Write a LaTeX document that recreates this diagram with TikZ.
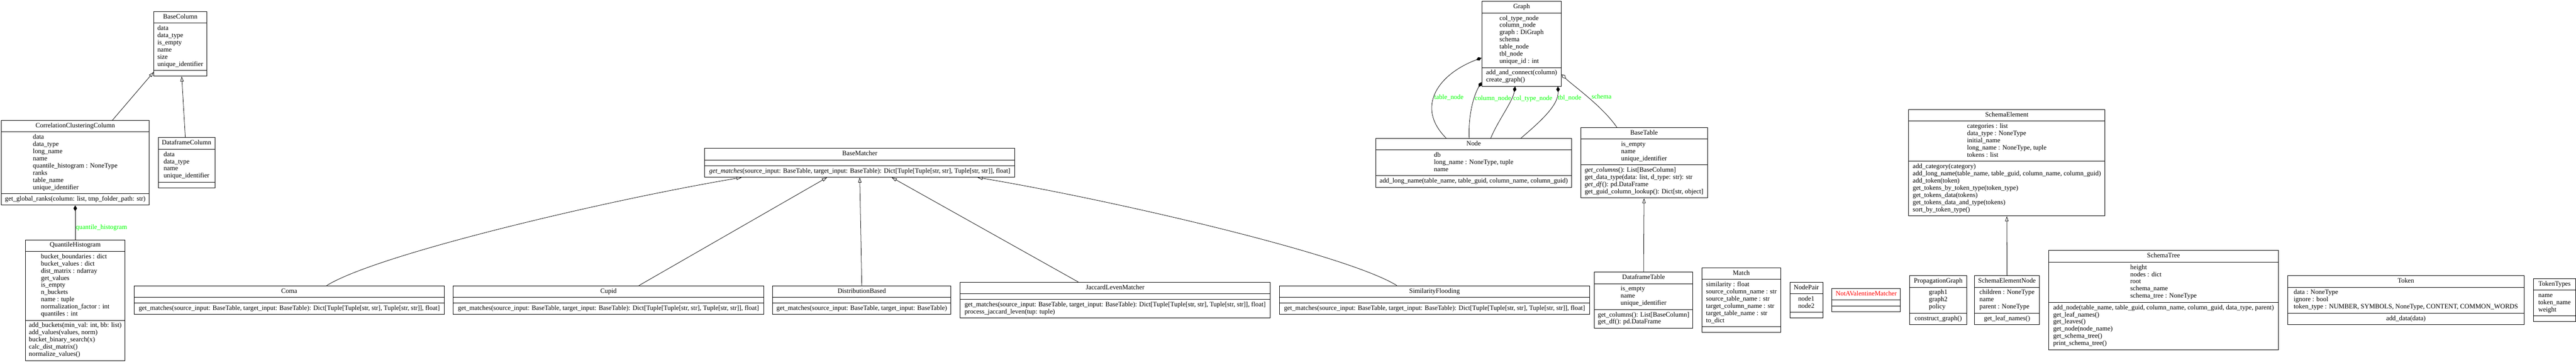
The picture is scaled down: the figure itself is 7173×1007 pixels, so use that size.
\documentclass[tikz,border=0pt]{standalone}
\usepackage{fontspec}
\setmainfont{Liberation Serif}
\usetikzlibrary{arrows.meta,positioning,shapes.multipart}
\definecolor{rolegreen}{RGB}{0,255,0}
\definecolor{extred}{RGB}{255,0,0}
\newcommand\rows[1]{\begin{tabular}{@{}l@{}}#1\end{tabular}}

\begin{document}
\begin{tikzpicture}[x=1pt,y=-1pt,node distance=24pt,
	umlclass/.style={rectangle split,rectangle split parts=3,draw,line width=1.4pt,
		inner xsep=10pt,inner ysep=5.25pt,font=\fontsize{18.5}{20}\selectfont},
	inherit/.style={-{Triangle[open,length=14pt,width=9pt]},line width=1.1pt},
	compose/.style={{Diamond[length=16pt,width=10pt]}-,line width=1.1pt},
	aggregate/.style={{Diamond[open,length=16pt,width=10pt]}-,line width=1.1pt},
	role/.style={text=rolegreen,font=\fontsize{18.5}{20}\selectfont,inner sep=1pt,anchor=west}]

\useasboundingbox (0,0) rectangle (7173,1007);

\node[umlclass,minimum width=146pt]   (BaseColumn) at (502,122)
	{\rows{BaseColumn}\nodepart{second}\rows{data\\data\_type\\is\_empty\\name\\size\\unique\_identifier}\nodepart{third}\rows{}};
\node[umlclass,minimum width=222pt]   (Graph) at (4237,122)
	{\rows{Graph}\nodepart{second}\rows{col\_type\_node\\column\_node\\graph : DiGraph\\schema\\table\_node\\tbl\_node\\unique\_id : int}\nodepart{third}\rows{add\_and\_connect(column)\\create\_graph()}};

\node[umlclass,minimum width=409pt]   (CCC) at (209.5,453)
	{\rows{CorrelationClusteringColumn}\nodepart{second}\rows{data\\data\_type\\long\_name\\name\\quantile\_histogram : NoneType\\ranks\\table\_name\\unique\_identifier}\nodepart{third}\rows{get\_global\_ranks(column: list, tmp\_folder\_path: str)}};
	\node[umlclass,minimum width=157pt]   (DataframeColumn) [right=of CCC]
	{\rows{DataframeColumn}\nodepart{second}\rows{data\\data\_type\\name\\unique\_identifier}\nodepart{third}\rows{}};
\node[umlclass,minimum width=864pt]   (BaseMatcher) at (2394,453)
	{\rows{BaseMatcher}\nodepart{second}\rows{}\nodepart{third}\rows{\textit{get\_matches}(source\_input: BaseTable, target\_input: BaseTable): Dict[Tuple[Tuple[str, str], Tuple[str, str]], float]}};
\node[umlclass,minimum width=545pt]   (Node) at (4103.5,453)
	{\rows{Node}\nodepart{second}\rows{db\\long\_name : NoneType, tuple\\name}\nodepart{third}\rows{add\_long\_name(table\_name, table\_guid, column\_name, column\_guid)}};
	\node[umlclass,minimum width=353pt]   (BaseTable) [right=of Node]
	{\rows{BaseTable}\nodepart{second}\rows{is\_empty\\name\\unique\_identifier}\nodepart{third}\rows{\textit{get\_columns}(): List[BaseColumn]\\get\_data\_type(data: list, d\_type: str): str\\\textit{get\_df}(): pd.DataFrame\\get\_guid\_column\_lookup(): Dict[str, object]}};
\node[umlclass,minimum width=546pt]   (SchemaElement) at (5588,453)
	{\rows{SchemaElement}\nodepart{second}\rows{categories : list\\data\_type : NoneType\\initial\_name\\long\_name : NoneType, tuple\\tokens : list}\nodepart{third}\rows{add\_category(category)\\add\_long\_name(table\_name, table\_guid, column\_name, column\_guid)\\add\_token(token)\\get\_tokens\_by\_token\_type(token\_type)\\get\_tokens\_data(tokens)\\get\_tokens\_data\_and\_type(tokens)\\sort\_by\_token\_type()}};

\node[umlclass,minimum width=275pt]   (QH) at (209.5,835)
	{\rows{QuantileHistogram}\nodepart{second}\rows{bucket\_boundaries : dict\\bucket\_values : dict\\dist\_matrix : ndarray\\get\_values\\is\_empty\\n\_buckets\\name : tuple\\normalization\_factor : int\\quantiles : int}\nodepart{third}\rows{add\_buckets(min\_val: int, bb: list)\\add\_values(values, norm)\\bucket\_binary\_search(x)\\calc\_dist\_matrix()\\normalize\_values()}};
	\node[umlclass,minimum width=863pt]   (Coma) [right=of QH]
	{\rows{Coma}\nodepart{second}\rows{}\nodepart{third}\rows{get\_matches(source\_input: BaseTable, target\_input: BaseTable): Dict[Tuple[Tuple[str, str], Tuple[str, str]], float]}};
	\node[umlclass,minimum width=864pt]   (Cupid) [right=of Coma]
	{\rows{Cupid}\nodepart{second}\rows{}\nodepart{third}\rows{get\_matches(source\_input: BaseTable, target\_input: BaseTable): Dict[Tuple[Tuple[str, str], Tuple[str, str]], float]}};
	\node[umlclass,minimum width=496pt]   (DistributionBased) [right=of Cupid]
	{\rows{DistributionBased}\nodepart{second}\rows{}\nodepart{third}\rows{get\_matches(source\_input: BaseTable, target\_input: BaseTable)}};
	\node[umlclass,minimum width=864pt]   (JaccardLevenMatcher) [right=of DistributionBased]
	{\rows{JaccardLevenMatcher}\nodepart{second}\rows{}\nodepart{third}\rows{get\_matches(source\_input: BaseTable, target\_input: BaseTable): Dict[Tuple[Tuple[str, str], Tuple[str, str]], float]\\process\_jaccard\_leven(tup: tuple)}};
	\node[umlclass,minimum width=864pt]   (SimilarityFlooding) [right=of JaccardLevenMatcher]
	{\rows{SimilarityFlooding}\nodepart{second}\rows{}\nodepart{third}\rows{get\_matches(source\_input: BaseTable, target\_input: BaseTable): Dict[Tuple[Tuple[str, str], Tuple[str, str]], float]}};
\node[umlclass,minimum width=273pt]   (DataframeTable) at (4576.5,835)
	{\rows{DataframeTable}\nodepart{second}\rows{is\_empty\\name\\unique\_identifier}\nodepart{third}\rows{get\_columns(): List[BaseColumn]\\get\_df(): pd.DataFrame}};
	\node[umlclass,minimum width=219pt]   (Match) [right=of DataframeTable]
	{\rows{Match}\nodepart{second}\rows{similarity : float\\source\_column\_name : str\\source\_table\_name : str\\target\_column\_name : str\\target\_table\_name : str\\to\_dict}\nodepart{third}\rows{}};
	\node[umlclass,minimum width=92pt]   (NodePair) [right=of Match]
	{\rows{NodePair}\nodepart{second}\rows{node1\\node2}\nodepart{third}\rows{}};
	\node[umlclass,minimum width=191pt]   (NotAValentineMatcher) [right=of NodePair]
	{\rows{\textcolor{extred}{NotAValentineMatcher}}\nodepart{second}\rows{}\nodepart{third}\rows{}};
	\node[umlclass,minimum width=159pt]   (PropagationGraph) [right=of NotAValentineMatcher]
	{\rows{PropagationGraph}\nodepart{second}\rows{graph1\\graph2\\policy}\nodepart{third}\rows{construct\_graph()}};
\node[umlclass,minimum width=181pt]   (SchemaElementNode) at (5588.5,835)
	{\rows{SchemaElementNode}\nodepart{second}\rows{children : NoneType\\name\\parent : NoneType}\nodepart{third}\rows{get\_leaf\_names()}};
	\node[umlclass,minimum width=640pt]   (SchemaTree) [right=of SchemaElementNode]
	{\rows{SchemaTree}\nodepart{second}\rows{height\\nodes : dict\\root\\schema\_name\\schema\_tree : NoneType}\nodepart{third}\rows{add\_node(table\_name, table\_guid, column\_name, column\_guid, data\_type, parent)\\get\_leaf\_names()\\get\_leaves()\\get\_node(node\_name)\\get\_schema\_tree()\\print\_schema\_tree()}};
	\node[umlclass,minimum width=659pt]   (Token) [right=of SchemaTree]
	{\rows{Token}\nodepart{second}\rows{data : NoneType\\ignore : bool\\token\_type : NUMBER, SYMBOLS, NoneType, CONTENT, COMMON\_WORDS}\nodepart{third}\rows{add\_data(data)}};
	\node[umlclass,minimum width=118pt]   (TokenTypes) [right=of Token]
	{\rows{TokenTypes}\nodepart{second}\rows{name\\token\_name\\weight}\nodepart{third}\rows{}};

\path[inherit] ([xshift=103.5pt]CCC.north) edge ([yshift=12pt]BaseColumn.south west)
		([xshift=-3.5pt]DataframeColumn.north) edge ([xshift=4pt]BaseColumn.south)
	([xshift=85pt]Cupid.north) edge ([xshift=-91pt]BaseMatcher.south)
		(DistributionBased.north) edge (BaseMatcher.south)
	([xshift=-103pt]JaccardLevenMatcher.north) edge ([xshift=89pt]BaseMatcher.south)
		(DataframeTable.north) edge (BaseTable.south)
	(SchemaElementNode.north) edge (SchemaElement.south);

\draw[inherit] ([xshift=104.5pt]Coma.north) .. controls +(142,-88) and +(-365,61) .. ([xshift=-329pt]BaseMatcher.south);
\draw[inherit] ([xshift=-105pt]SimilarityFlooding.north) .. controls +(-142,-88) and +(365,61) .. ([xshift=328pt]BaseMatcher.south);

\path[compose] (CCC.south) edge node[role,pos=0.65]{quantile\_histogram} (QH.north);

\draw[compose] ([yshift=-39pt]Graph.west) .. controls +(-120,45) and +(-87,-87) .. ([xshift=-76.5pt]Node.north)
	node[role,pos=0.56]{table\_node};
\draw[compose] ([yshift=12pt]Graph.south west) .. controls +(-17,29) and +(-3,-77) .. ([xshift=-12.5pt]Node.north)
	node[role,pos=0.4]{column\_node};
\draw[compose] ([xshift=-18pt]Graph.south) .. controls +(-7,42) and +(19,-47) .. ([xshift=47.5pt]Node.north)
	node[role,pos=0.25,xshift=4pt]{col\_type\_node};
\draw[compose] ([xshift=101pt]Graph.south) .. controls +(2,52) and +(55,-47) .. ([xshift=131.5pt]Node.north)
	node[role,pos=0.21,xshift=4pt]{tbl\_node};
\draw[aggregate] ([yshift=-85pt]Graph.east) .. controls +(27,28) and +(-41,-60) .. ([xshift=-75.5pt]BaseTable.north)
	node[role,pos=0.5,xshift=10pt]{schema};

\end{tikzpicture}
\end{document}
